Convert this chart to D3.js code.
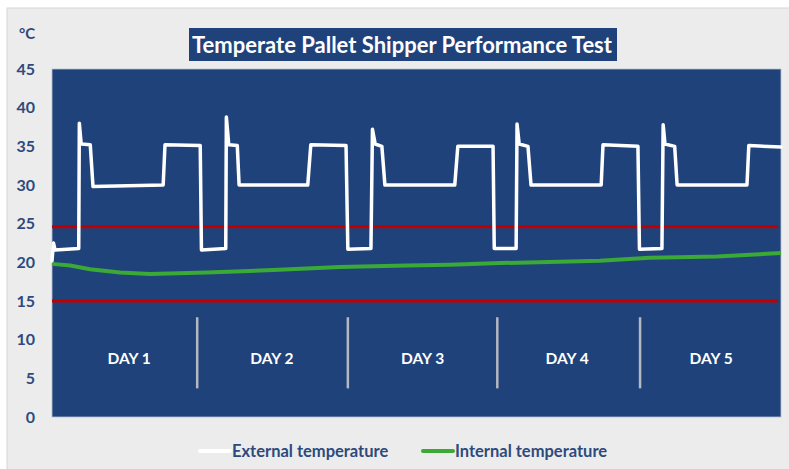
<html>
	<head>
		<meta charset="utf-8">
		<script src="https://d3js.org/d3.v7.min.js"></script>
		<style>
		body { margin: 0; background: #ffffff; }
		text { font-family: Lato, "Open Sans", sans-serif; font-weight: 700; }
		</style>
	</head>
	<body>
		<svg id="page"></svg>
		<script>

		// chart data
		var yTicks = [0, 5, 10, 15, 20, 25, 30, 35, 40, 45];
		var extHours = [0, 0.25, 0.5, 4.4, 4.5, 4.8, 6.3, 6.75, 18.3, 18.6, 24.4, 24.6, 28.6, 28.7, 29.1, 30.5, 30.8, 42.1, 42.6, 48.4, 48.7,
			52.5, 52.75, 53.2, 54.3, 54.8, 66.3, 66.8, 72.6, 72.8, 76.4, 76.55, 76.9, 78.35, 78.85, 90.4, 90.7, 96.45, 96.7,
			100.4, 100.6, 100.9, 102.5, 102.9, 114.4, 114.7, 120];
		var extTemps = [20.2, 22.5, 21.6, 21.8, 38.0, 35.3, 35.2, 29.8, 30.0, 35.2, 35.1, 21.6, 21.8, 38.8, 35.2, 35.1, 30.0, 30.0, 35.2, 35.1, 21.7,
			21.8, 37.2, 35.3, 35.0, 30.0, 30.0, 35.0, 35.0, 21.8, 21.8, 37.9, 35.3, 35.0, 30.0, 30.0, 35.2, 35.0, 21.7,
			21.8, 37.8, 35.3, 35.0, 30.0, 30.0, 35.1, 34.9];
		var intHours = [0, 3, 6.25, 11.2, 16.1, 25.5, 36.4, 47.4, 58.4, 65.5, 73.7, 90.2, 98.4, 109.5, 120];
		var intTemps = [19.8, 19.6, 19.1, 18.7, 18.5, 18.7, 19.0, 19.4, 19.6, 19.7, 19.9, 20.2, 20.6, 20.75, 21.2];
		var limits = [24.6, 15];
		var dayLabels = ["DAY 1", "DAY 2", "DAY 3", "DAY 4", "DAY 5"];
		var dayCenters = [12.7, 36.2, 61, 84.8, 108.5];
		var daySeparators = [23.9, 48.7, 73.3, 96.8];

		var blue = "#20427a";
		var textBlue = "#2d4a7c";

		var svg = d3.select("#page").attr("width", 789).attr("height", 469);

		// outer panel
		svg.append("rect").attr("x", 7).attr("y", 8).attr("width", 790).attr("height", 470)
			.attr("fill", "#ececec").attr("stroke", "#d6d6d6").attr("stroke-width", 1);

		var x = d3.scaleLinear().domain([0, 120]).range([52, 781]);
		var y = d3.scaleLinear().domain([0, 45]).range([417, 69]);

		// plot area
		svg.append("rect").attr("x", x(0)).attr("y", y(45)).attr("width", x(120) - x(0)).attr("height", y(0) - y(45))
			.attr("fill", blue).attr("stroke", "#b8c2d2").attr("stroke-width", 0.8);

		// title
		svg.append("rect").attr("x", 189).attr("y", 28).attr("width", 428).attr("height", 33).attr("fill", blue);
		svg.append("text").attr("x", 402).attr("y", 52.5).attr("text-anchor", "middle")
			.style("font-size", "22px").attr("fill", "white").text("Temperate Pallet Shipper Performance Test");

		// y axis
		var yAxis = d3.axisLeft(y).tickValues(yTicks).tickSize(0).tickPadding(0);
		var ya = svg.append("g").attr("transform", "translate(35,0)").call(yAxis);
		ya.select(".domain").remove();
		ya.selectAll("text").style("font-size", "16px").style("font-family", "Lato, sans-serif")
			.style("font-weight", 700).attr("fill", textBlue);
		svg.append("text").attr("x", 19).attr("y", 39).style("font-size", "15px").attr("fill", textBlue).text("°C");

		// day separators and labels
		svg.selectAll(".sep").data(daySeparators).enter().append("line")
			.attr("x1", d => x(d)).attr("x2", d => x(d))
			.attr("y1", y(12.9)).attr("y2", y(3.7))
			.attr("stroke", "#b4b8c0").attr("stroke-width", 2.5);
		svg.selectAll(".day").data(dayLabels).enter().append("text")
			.attr("x", (d, i) => x(dayCenters[i])).attr("y", y(7.4))
			.attr("text-anchor", "middle").attr("dominant-baseline", "middle")
			.style("font-size", "15.5px").attr("fill", "white").text(d => d);

		// limit lines
		svg.selectAll(".limit").data(limits).enter().append("line")
			.attr("x1", x(0)).attr("x2", x(119.5))
			.attr("y1", d => y(d)).attr("y2", d => y(d))
			.attr("stroke", "#c00000").attr("stroke-width", 3);

		// temperature lines
		var line = d3.line().x(d => x(d[0])).y(d => y(d[1]));
		svg.append("path").datum(d3.zip(intHours, intTemps)).attr("d", line)
			.attr("fill", "none").attr("stroke", "#3aa935").attr("stroke-width", 4);
		svg.append("path").datum(d3.zip(extHours, extTemps)).attr("d", line)
			.attr("fill", "none").attr("stroke", "white").attr("stroke-width", 3.5)
			.attr("stroke-linejoin", "round").attr("stroke-linecap", "round");

		// legend
		svg.append("line").attr("x1", 200).attr("x2", 230).attr("y1", 451).attr("y2", 451)
			.attr("stroke", "white").attr("stroke-width", 4).attr("stroke-linecap", "round");
		svg.append("text").attr("x", 232).attr("y", 456.5).style("font-size", "16.5px").attr("fill", textBlue).text("External temperature");
		svg.append("line").attr("x1", 423).attr("x2", 453).attr("y1", 451).attr("y2", 451)
			.attr("stroke", "#3aa935").attr("stroke-width", 4).attr("stroke-linecap", "round");
		svg.append("text").attr("x", 455).attr("y", 456.5).style("font-size", "16.5px").attr("fill", textBlue).text("Internal temperature");

		</script>
	</body>
</html>
